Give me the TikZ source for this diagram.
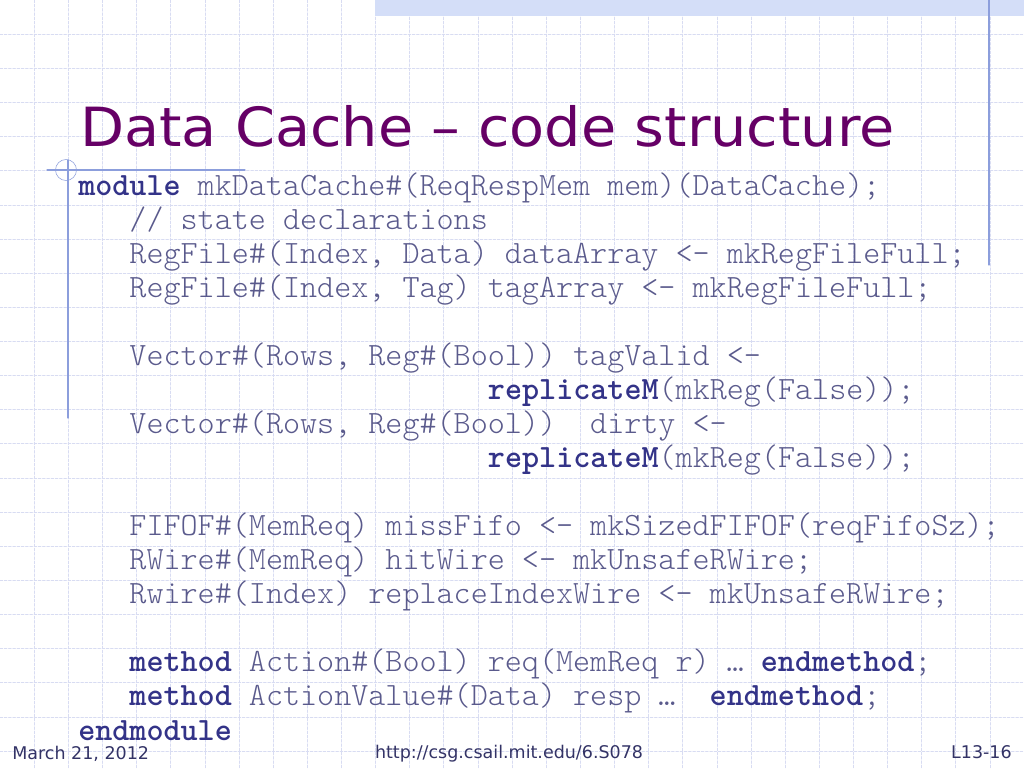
\documentclass[tikz,border=0pt]{standalone}
\usepackage{fontspec}
\usepackage{tikz}
\usetikzlibrary{positioning}
\newfontfamily\codefont{Latin Modern Mono Light}
\newfontfamily\titlefont[FakeStretch=1.06]{DejaVu Sans}
\newfontfamily\footfont{DejaVu Sans}
\definecolor{titlecol}{RGB}{102,0,102}
\definecolor{kwcol}{RGB}{51,51,136}
\definecolor{codecol}{RGB}{90,90,140}
\definecolor{gridcol}{RGB}{216,220,242}
\definecolor{rulecol}{RGB}{140,158,220}
\definecolor{bandcol}{RGB}{212,222,248}
\definecolor{footcol}{RGB}{51,51,102}
\newcommand{\kwd}[1]{{\bfseries\color{kwcol}#1}}
\tikzset{code/.style={anchor=base west,inner sep=0pt,text=codecol,
    font=\codefont\fontsize{22.86bp}{24bp}\selectfont},
  foot/.style={anchor=base,inner sep=0pt,text=footcol,
    font=\footfont\fontsize{12.3bp}{14bp}\selectfont}}

\begin{document}
\begin{tikzpicture}[x=0.0248047cm,y=-0.0248047cm,line cap=round]

  \useasboundingbox (0,0) rectangle (1024,768);

  % grid
  \foreach \i in {1,...,29}
    \draw [gridcol,dash pattern=on 2pt off 1pt] (\i*34.133,0) -- (\i*34.133,768);
  \foreach \j in {1,...,22}
    \draw [gridcol,dash pattern=on 2pt off 1pt] (0,\j*34.133) -- (1024,\j*34.133);

  \fill [bandcol] (375,0) rectangle (1024,16);
  \draw [rulecol,thick] (989,0) -- (989,265);
  \draw [rulecol,thick] (47,170) -- (245,170);
  \draw [rulecol,thick] (68,160) -- (68,418);
  \draw [rulecol] (66,170) circle (10.5);

  \node [anchor=base west,inner sep=0pt,text=titlecol,
    font=\titlefont\fontsize{38bp}{42bp}\selectfont] (title) at (80,146)
    {Data Cache – code structure};

  \node [code] (l1) at (78,195) {\kwd{module} mkDataCache\#(ReqRespMem mem)(DataCache);};
  \node [code] (l2) at (129.2,229) {// state declarations};
  \node [code] (l3) at (129.2,263) {RegFile\#(Index, Data) dataArray <- mkRegFileFull;};
  \node [code] (l4) at (129.2,297) {RegFile\#(Index, Tag) tagArray <- mkRegFileFull;};

  \node [code] (l5) at (129.2,365) {Vector\#(Rows, Reg\#(Bool)) tagValid <-};
  \node [code] (l6) at (487.7,399) {\kwd{replicateM}(mkReg(False));};
  \node [code] (l7) at (129.2,433) {Vector\#(Rows, Reg\#(Bool))\ \ dirty <-};
  \node [code] (l8) at (487.7,467) {\kwd{replicateM}(mkReg(False));};

  \node [code] (l9) at (129.2,535) {FIFOF\#(MemReq) missFifo <- mkSizedFIFOF(reqFifoSz);};
  \node [code] (l10) at (129.2,569) {RWire\#(MemReq) hitWire <- mkUnsafeRWire;};
  \node [code] (l11) at (129.2,603) {Rwire\#(Index) replaceIndexWire <- mkUnsafeRWire;};

  \node [code] (l12) at (129.2,671) {\kwd{method} Action\#(Bool) req(MemReq r) … \kwd{endmethod};};
  \node [code] (l13) at (129.2,705) {\kwd{method} ActionValue\#(Data) resp …\ \ \kwd{endmethod};};
  \node [code] (l14) at (78,740) {\kwd{endmodule}};

  \node [foot,anchor=base west] (date) at (12,759) {March 21, 2012};
  \node [foot] (url) at (509,758) {http://csg.csail.mit.edu/6.S078};
  \node [foot,anchor=base east] (page) at (1012,758) {L13-16};

\end{tikzpicture}
\end{document}
